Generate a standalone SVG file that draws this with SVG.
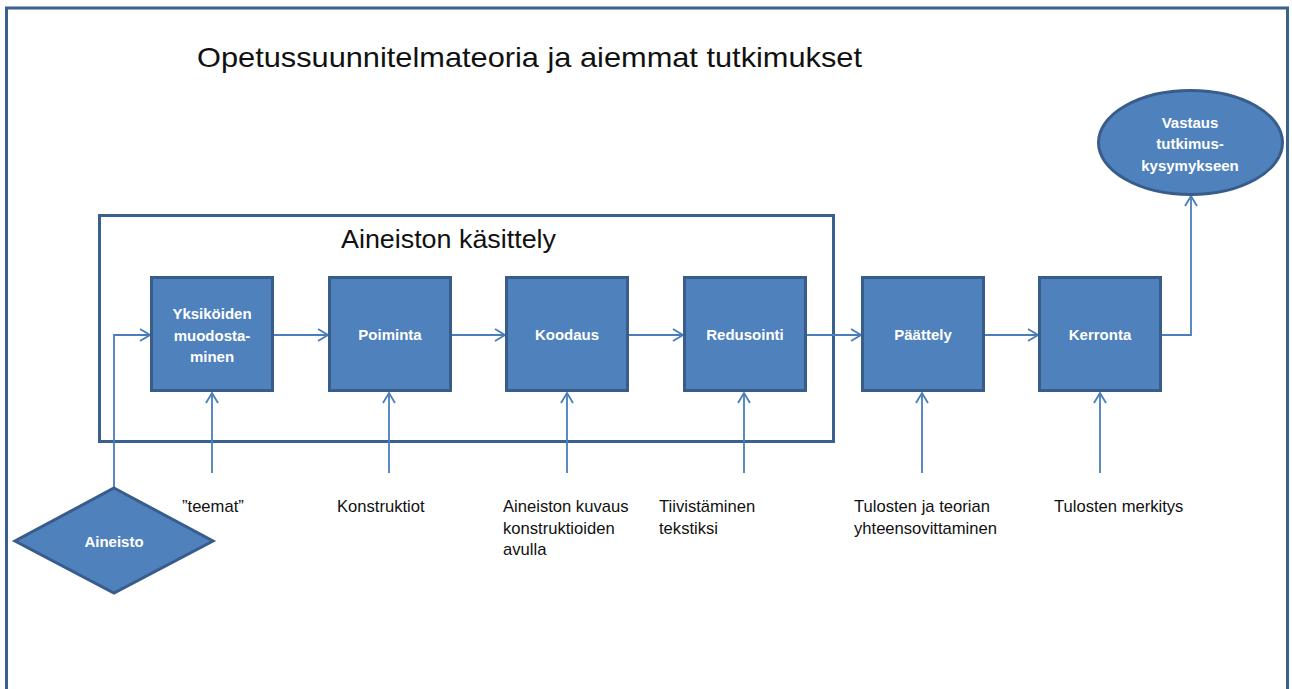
<svg xmlns="http://www.w3.org/2000/svg" width="1292" height="689" viewBox="0 0 1292 689">
<style>
.frame{fill:none;stroke:#3A6090;stroke-width:3}
.box{fill:#4F81BD;stroke:#385D8A;stroke-width:3}
.con{fill:none;stroke:#4A7EBB;stroke-width:1.8}
.lbl{font-family:"Liberation Sans",Arial,sans-serif;font-size:15px;font-weight:bold;fill:#FFFFFF;text-anchor:middle}
.txt{font-family:"Liberation Sans",Arial,sans-serif;font-size:16.6px;fill:#111111}
.head{font-family:"Liberation Sans",Arial,sans-serif;fill:#111111}
</style>
<defs>
<marker id="arr" viewBox="0 0 12 14" refX="11" refY="7" markerWidth="12" markerHeight="14" markerUnits="userSpaceOnUse" orient="auto">
<path d="M1,1 L11,7 L1,13" fill="none" stroke="#4A7EBB" stroke-width="1.8"/>
</marker>
</defs>
<rect width="1292" height="689" fill="#FFFFFF"/>
<g id="outer-frame">
<path class="frame" d="M6.5,700 L6.5,8 L1287.5,8 L1287.5,700"/>
<text class="head" x="197" y="67" font-size="28" textLength="665" lengthAdjust="spacingAndGlyphs">Opetussuunnitelmateoria ja aiemmat tutkimukset</text>
</g>
<g id="kasittely-frame">
<rect class="frame" x="99.5" y="215.5" width="734" height="226"/>
<text class="head" x="341" y="248" font-size="25" textLength="215" lengthAdjust="spacingAndGlyphs">Aineiston käsittely</text>
</g>
<g id="connectors">
<path class="con" d="M114,488 L114,335 L150,335" marker-end="url(#arr)"/>
<path class="con" d="M273,335 L328,335" marker-end="url(#arr)"/>
<path class="con" d="M450,335 L505,335" marker-end="url(#arr)"/>
<path class="con" d="M628,335 L683,335" marker-end="url(#arr)"/>
<path class="con" d="M806,335 L861,335" marker-end="url(#arr)"/>
<path class="con" d="M984,335 L1038,335" marker-end="url(#arr)"/>
<path class="con" d="M1161,335 L1191,335 L1191,196" marker-end="url(#arr)"/>
<path class="con" d="M212,473 L212,393" marker-end="url(#arr)"/>
<path class="con" d="M389,473 L389,393" marker-end="url(#arr)"/>
<path class="con" d="M567,473 L567,393" marker-end="url(#arr)"/>
<path class="con" d="M744,473 L744,393" marker-end="url(#arr)"/>
<path class="con" d="M922,473 L922,393" marker-end="url(#arr)"/>
<path class="con" d="M1100,473 L1100,393" marker-end="url(#arr)"/>
</g>
<g id="yksikoiden">
<rect class="box" x="151.5" y="277.5" width="121" height="113"/>
<text class="lbl" x="212" y="319">Yksiköiden</text>
<text class="lbl" x="212" y="341">muodosta-</text>
<text class="lbl" x="212" y="362">minen</text>
</g>
<g id="poiminta">
<rect class="box" x="329.5" y="277.5" width="121" height="113"/>
<text class="lbl" x="390" y="340">Poiminta</text>
</g>
<g id="koodaus">
<rect class="box" x="506.5" y="277.5" width="121" height="113"/>
<text class="lbl" x="567" y="340">Koodaus</text>
</g>
<g id="redusointi">
<rect class="box" x="684.5" y="277.5" width="121" height="113"/>
<text class="lbl" x="745" y="340">Redusointi</text>
</g>
<g id="paattely">
<rect class="box" x="862.5" y="277.5" width="121" height="113"/>
<text class="lbl" x="923" y="340">Päättely</text>
</g>
<g id="kerronta">
<rect class="box" x="1039.5" y="277.5" width="121" height="113"/>
<text class="lbl" x="1100" y="340">Kerronta</text>
</g>
<g id="vastaus">
<ellipse class="box" cx="1190.5" cy="142.5" rx="92" ry="52"/>
<text class="lbl" x="1190" y="128">Vastaus</text>
<text class="lbl" x="1190" y="149">tutkimus-</text>
<text class="lbl" x="1190" y="171">kysymykseen</text>
</g>
<g id="aineisto">
<polygon class="box" points="114,488 213,541 114,593 15,541"/>
<text class="lbl" x="114" y="547">Aineisto</text>
</g>
<g id="labels">
<text class="txt" x="182" y="512">”teemat”</text>
<text class="txt" x="337" y="512">Konstruktiot</text>
<text class="txt" x="503" y="512">Aineiston kuvaus</text>
<text class="txt" x="503" y="534">konstruktioiden</text>
<text class="txt" x="503" y="555">avulla</text>
<text class="txt" x="659" y="512">Tiivistäminen</text>
<text class="txt" x="659" y="534">tekstiksi</text>
<text class="txt" x="854" y="512">Tulosten ja teorian</text>
<text class="txt" x="854" y="534">yhteensovittaminen</text>
<text class="txt" x="1054" y="512">Tulosten merkitys</text>
</g>
</svg>
